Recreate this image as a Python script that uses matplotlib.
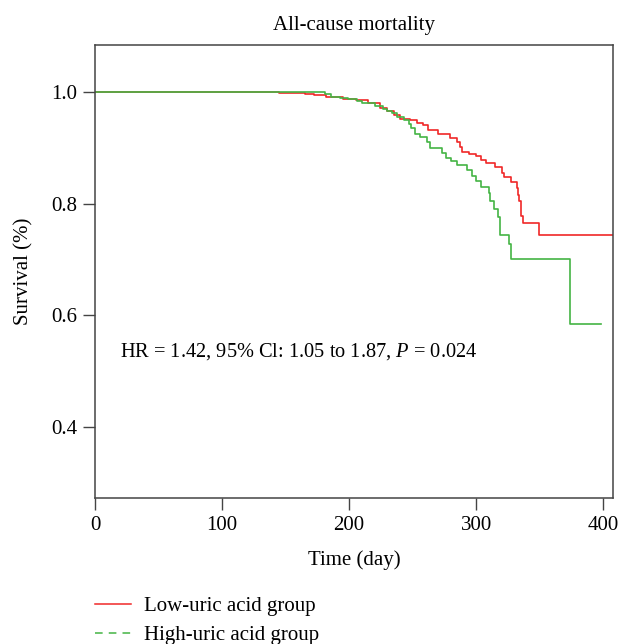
import matplotlib
matplotlib.use("Agg")
import matplotlib.pyplot as plt
from matplotlib.lines import Line2D

plt.rcParams["font.family"] = ["Liberation Serif", "DejaVu Serif"]
plt.rcParams["mathtext.fontset"] = "custom"
plt.rcParams["mathtext.rm"] = "Liberation Serif"
plt.rcParams["mathtext.it"] = "Liberation Serif:italic"

# Kaplan-Meier step points (day, survival)
low_days = [0, 145, 155, 165, 172, 182, 195, 205, 215, 224, 230, 235, 240, 248, 253,
            258, 262, 270, 279, 285, 287, 289, 294, 300, 304, 308, 315, 320, 322, 327,
            332, 333, 334, 335, 337, 349, 420]
low_surv = [1.0, 0.999, 0.998, 0.996, 0.994, 0.991, 0.988, 0.985, 0.980, 0.971, 0.966,
            0.959, 0.952, 0.949, 0.944, 0.940, 0.932, 0.924, 0.917, 0.910, 0.901, 0.893,
            0.889, 0.885, 0.879, 0.872, 0.866, 0.855, 0.848, 0.839, 0.828, 0.816, 0.804,
            0.778, 0.765, 0.743, 0.743]

high_days = [0, 161, 181, 186, 193, 199, 206, 210, 220, 227, 230, 234, 238, 243, 247,
             249, 252, 256, 261, 264, 273, 276, 280, 285, 293, 297, 300, 304, 310, 311,
             314, 317, 319, 326, 327, 374, 398]
high_surv = [1.0, 0.9995, 0.996, 0.9905, 0.989, 0.987, 0.984, 0.980, 0.9755, 0.970,
             0.966, 0.962, 0.956, 0.950, 0.942, 0.935, 0.924, 0.920, 0.911, 0.900, 0.890,
             0.881, 0.876, 0.869, 0.860, 0.850, 0.841, 0.830, 0.819, 0.805, 0.790, 0.776,
             0.744, 0.728, 0.701, 0.585, 0.585]

x_ticks = [0, 100, 200, 300, 400]
y_ticks = [0.4, 0.6, 0.8, 1.0]

red = "#F02828"
green = "#44B444"
axis_col = "#444444"
fs = 15

fig = plt.figure(figsize=(6.18, 6.44), dpi=100)
ax = fig.add_axes([0.1537, 0.226, 0.8390, 0.704])

ax.step(low_days, low_surv, where="post", color=red, lw=1.2)
ax.step(high_days, high_surv, where="post", color=green, lw=1.2)

ax.set_xlim(0, 408)
ax.set_ylim(0.272, 1.084)
ax.set_xticks(x_ticks)
ax.set_yticks(y_ticks)
ax.set_yticklabels([f"{v:.1f}" for v in y_ticks])
ax.tick_params(direction="out", length=8.5, width=1.0, color=axis_col,
               labelsize=fs, pad=4)
for s in ax.spines.values():
    s.set_color(axis_col)
    s.set_linewidth(1.1)

ax.set_title("All-cause mortality", fontsize=fs, pad=11)
ax.set_xlabel("Time (day)", fontsize=fs, labelpad=11)
ax.set_ylabel("Survival (%)", fontsize=fs, labelpad=13)

ax.text(0.048, 0.323,
        r"HR = 1.42, 95% Cl: 1.05 to 1.87, $\it{P}$ = 0.024",
        transform=ax.transAxes, fontsize=14.7, va="center", ha="left")

handles = [Line2D([], [], color=red, lw=1.1, ls="-"),
           Line2D([], [], color=green, lw=1.1, ls=(0, (5, 4)))]
fig.legend(handles, ["Low-uric acid group", "High-uric acid group"],
           loc="upper left", bbox_to_anchor=(0.1537, 0.074),
           frameon=False, fontsize=fs, handlelength=1.75, handletextpad=0.62,
           labelspacing=0.45, borderpad=0, borderaxespad=0)

fig.savefig("out.png", dpi=100)
